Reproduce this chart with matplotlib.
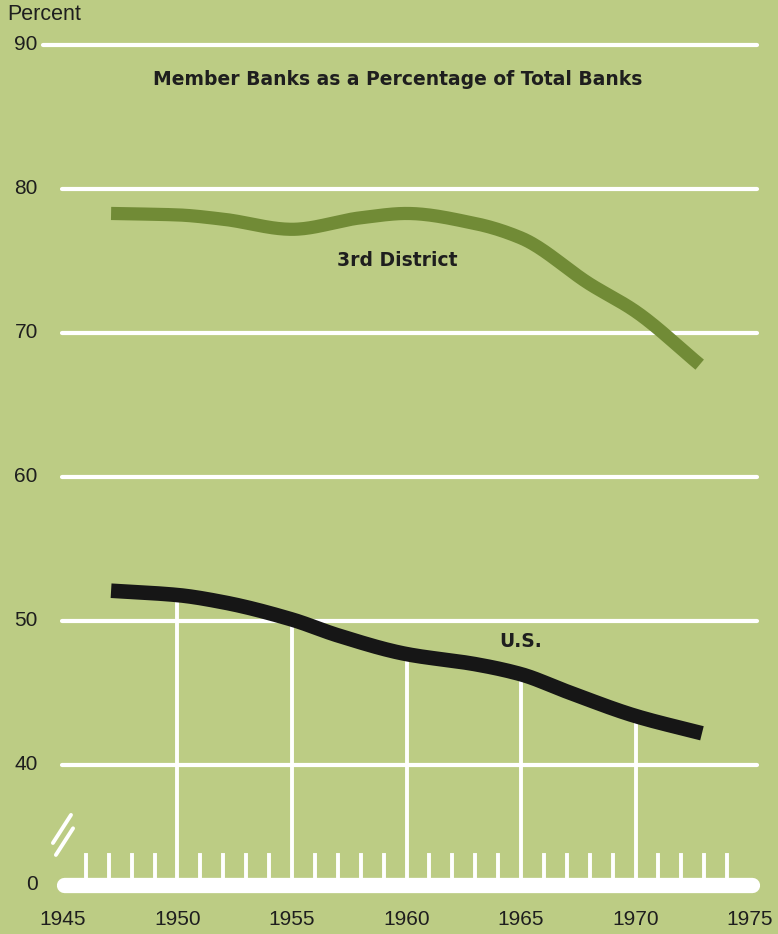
import numpy as np
import matplotlib.pyplot as plt
from matplotlib.lines import Line2D

# Member banks as a share of all banks, percent
years_3rd = [1947.1, 1950, 1952, 1955, 1958, 1960, 1963, 1965, 1968, 1970, 1972.8]
pct_3rd = [78.3, 78.2, 77.9, 77.2, 78.0, 78.3, 77.6, 76.6, 73.4, 71.5, 67.8]

years_us = [1947.1, 1950, 1952, 1955, 1957, 1960, 1963, 1965, 1967, 1970, 1972.9]
pct_us = [52.1, 51.8, 51.3, 50.1, 49.0, 47.7, 47.0, 46.3, 45.1, 43.4, 42.2]

y_ticks = [40, 50, 60, 70, 80, 90]
x_ticks = [1945, 1950, 1955, 1960, 1965, 1970, 1975]

BG = "#bccc84"
GRID = "white"
GREEN = "#718b36"
BLACK = "#161616"
TEXT = "#1e1e1e"
ZERO_POS = 31.67  # where the "0" baseline sits below the axis break


def smooth(xs, ys, n=300):
    """Monotone cubic (PCHIP-like) interpolation through the read points."""
    xs = np.asarray(xs, float)
    ys = np.asarray(ys, float)
    h = np.diff(xs)
    d = np.diff(ys) / h
    m = np.zeros_like(ys)
    m[0], m[-1] = d[0], d[-1]
    for i in range(1, len(xs) - 1):
        if d[i - 1] * d[i] > 0:
            w1 = 2 * h[i] + h[i - 1]
            w2 = h[i] + 2 * h[i - 1]
            m[i] = (w1 + w2) / (w1 / d[i - 1] + w2 / d[i])
    xx = np.linspace(xs[0], xs[-1], n)
    idx = np.clip(np.searchsorted(xs, xx) - 1, 0, len(xs) - 2)
    t = (xx - xs[idx]) / h[idx]
    h00 = 2 * t**3 - 3 * t**2 + 1
    h10 = t**3 - 2 * t**2 + t
    h01 = -2 * t**3 + 3 * t**2
    h11 = t**3 - t**2
    yy = (h00 * ys[idx] + h10 * h[idx] * m[idx]
          + h01 * ys[idx + 1] + h11 * h[idx] * m[idx + 1])
    return xx, yy


plt.rcParams["font.family"] = ["Liberation Sans", "DejaVu Sans"]

fig = plt.figure(figsize=(7.78, 9.34), dpi=100, facecolor=BG)
ax = fig.add_axes([0, 0, 1, 1])
ax.set_facecolor(BG)
ax.set_xlim(1942.25, 1976.22)
ax.set_ylim(28.26, 93.125)
ax.axis("off")

# horizontal gridlines
for v in y_ticks:
    x0 = 1944.13 if v == 90 else 1944.96
    ax.plot([x0, 1975.3], [v, v], color=GRID, lw=3, solid_capstyle="round", zorder=1)
    ax.text(1943.9, v, str(v), ha="right", va="center", fontsize=15, color=TEXT)

ax.text(1942.55, 92.1, "Percent", ha="left", va="center", fontsize=15.5, color=TEXT)

# baseline bar at zero
ax.plot([1945.05, 1975.1], [ZERO_POS, ZERO_POS], color=GRID, lw=11,
        solid_capstyle="round", zorder=1)
ax.text(1943.9, ZERO_POS, "0", ha="right", va="center", fontsize=15, color=TEXT)

# yearly ticks
for yr in range(1946, 1975):
    if yr % 5:
        ax.plot([yr, yr], [ZERO_POS, ZERO_POS + 2.1], color=GRID, lw=2.8, zorder=1)

# five-year drop lines up to the U.S. curve
xs_us, ys_us = smooth(years_us, pct_us)
for yr in x_ticks[1:-1]:
    top = np.interp(yr, xs_us, ys_us)
    ax.plot([yr, yr], [ZERO_POS, top], color=GRID, lw=2.8, zorder=1)

for yr in x_ticks:
    ax.text(yr, 29.3, str(yr), ha="center", va="center", fontsize=15, color=TEXT)

# axis break marks
for (xa, ya), (xb, yb) in [((1944.56, 34.58), (1945.35, 36.53)),
                           ((1944.69, 33.75), (1945.44, 35.6))]:
    ax.add_line(Line2D([xa, xb], [ya, yb], color=GRID, lw=2.8, solid_capstyle="round"))

# series
xs3, ys3 = smooth(years_3rd, pct_3rd)
ax.plot(xs3, ys3, color=GREEN, lw=9.5, solid_capstyle="butt", zorder=3)
ax.plot(xs_us, ys_us, color=BLACK, lw=10.5, solid_capstyle="butt", zorder=3)

bold = dict(ha="center", va="center", fontsize=13.5, fontweight="bold",
            color=TEXT, family=["DejaVu Sans"])
ax.text(1959.6, 87.6, "Member Banks as a Percentage of Total Banks", **bold)
ax.text(1959.6, 75.0, "3rd District", **bold)
ax.text(1965.0, 48.55, "U.S.", **bold)

fig.savefig("out.png", dpi=100, facecolor=BG)
